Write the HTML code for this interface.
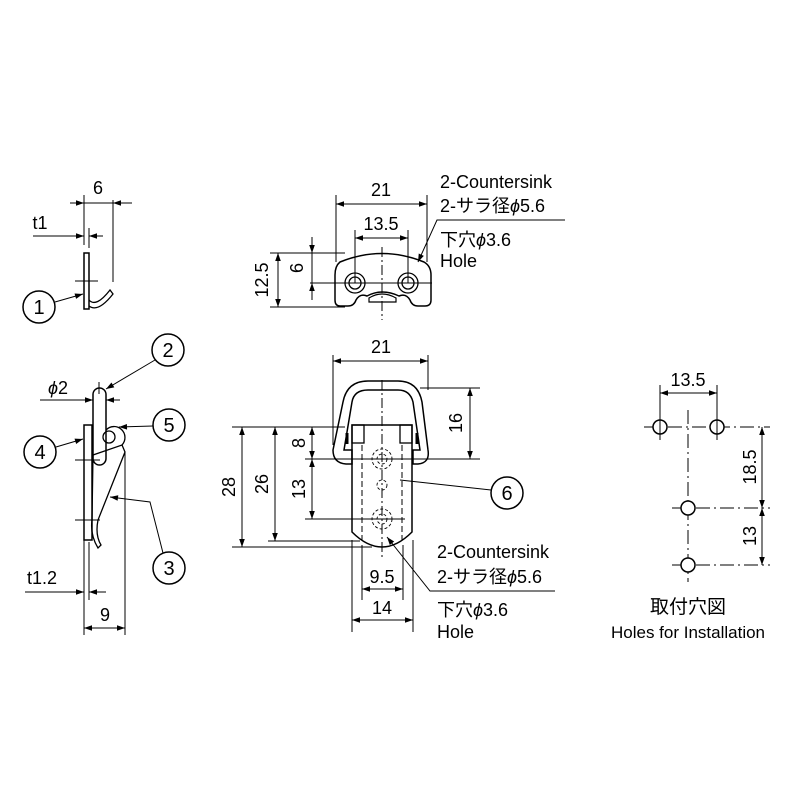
<!DOCTYPE html>
<html><head><meta charset="utf-8"><style>body{margin:0;background:#fff}svg{display:block}text{font-family:"Liberation Sans","Noto Sans CJK JP",sans-serif;fill:#000}</style></head><body>
<svg width="800" height="800" viewBox="0 0 800 800" xmlns="http://www.w3.org/2000/svg">
<defs><marker id="a" viewBox="0 0 10 10" refX="10" refY="5" markerWidth="10" markerHeight="8" orient="auto-start-reverse" markerUnits="userSpaceOnUse"><path d="M0,1.5L10,5L0,8.5z" fill="#000"/></marker></defs>
<g stroke="#000" stroke-width="1" fill="none">
<!-- Part 1 -->
<rect x="84" y="253" width="5" height="56" stroke-width="1.5"/>
<path d="M89,300 Q96,308 110,290 L113,294 Q98,313 89,306" stroke-width="1.3"/>
<line x1="84" y1="195" x2="84" y2="245"/><line x1="113" y1="200" x2="113" y2="282"/>
<line x1="70" y1="203" x2="84" y2="203" marker-end="url(#a)"/><line x1="84" y1="203" x2="113" y2="203"/><line x1="132" y1="203" x2="113" y2="203" marker-end="url(#a)"/>
<line x1="89" y1="228" x2="89" y2="248"/>
<line x1="33" y1="236" x2="84" y2="236" marker-end="url(#a)"/><line x1="103" y1="236" x2="89" y2="236" marker-end="url(#a)"/>
<line x1="75" y1="281" x2="98" y2="281"/>
<circle cx="39" cy="307" r="16" stroke-width="1.5"/><line x1="55" y1="302" x2="83" y2="294" marker-end="url(#a)"/>
<!-- Part 2 -->
<rect x="93" y="388" width="13" height="77" rx="6.5" stroke-width="1.5"/>
<line x1="40" y1="400" x2="93" y2="400" marker-end="url(#a)"/><line x1="120" y1="400" x2="106" y2="400" marker-end="url(#a)"/>
<line x1="99" y1="382" x2="99" y2="394"/>
<circle cx="168" cy="350" r="16" stroke-width="1.5"/><line x1="155" y1="360" x2="106" y2="389" marker-end="url(#a)"/>
<circle cx="109" cy="437" r="6" stroke-width="1.3"/><path d="M106,430 A9,9 0 0 1 122,445" stroke-width="1.3"/>
<circle cx="169" cy="425" r="16" stroke-width="1.5"/><line x1="153" y1="426" x2="119" y2="427" marker-end="url(#a)"/>
<rect x="84" y="425" width="8" height="115" stroke-width="1.5"/>
<circle cx="40" cy="452" r="16" stroke-width="1.5"/><line x1="56" y1="447" x2="83" y2="439" marker-end="url(#a)"/>
<path d="M122,445 L125,452 L98,520 Q95,535 101,545 L98,548 Q90,535 92,520 L93,455 Z" stroke-width="1.3"/>
<line x1="75" y1="460" x2="100" y2="460"/><line x1="75" y1="520" x2="100" y2="520"/>
<line x1="125" y1="452" x2="125" y2="635"/><line x1="84" y1="540" x2="84" y2="635"/><line x1="89" y1="542" x2="89" y2="600"/>
<line x1="25" y1="592" x2="84" y2="592" marker-end="url(#a)"/><line x1="106" y1="592" x2="89" y2="592" marker-end="url(#a)"/>
<line x1="84" y1="628" x2="125" y2="628" marker-start="url(#a)" marker-end="url(#a)"/>
<circle cx="169" cy="568" r="16" stroke-width="1.5"/><polyline points="163,553 150,502 110,497" marker-end="url(#a)"/>
<!-- Top plate -->
<path d="M340,262 Q382,245 424,262 Q431,266 431,275 L431,300 Q431,306 425,306 L418,306 Q412,306 410,300 Q406,293 399,296 Q382,288 367,296 Q360,293 356,300 Q354,306 348,306 L340,306 Q335,306 335,300 L335,275 Q335,266 340,262 Z" stroke-width="1.5"/>
<path d="M369,298 Q382,290 396,298 L396,302 L369,302 Z" stroke-width="1.2"/>
<circle cx="355" cy="283" r="10" stroke-width="1.3"/><circle cx="355" cy="283" r="6" stroke-width="1.3"/>
<circle cx="408" cy="283" r="10" stroke-width="1.3"/><circle cx="408" cy="283" r="6" stroke-width="1.3"/>
<line x1="382" y1="247" x2="382" y2="320" stroke-dasharray="10,3,2,3"/>
<line x1="310" y1="283" x2="432" y2="283"/>
<line x1="336" y1="195" x2="336" y2="262"/><line x1="427" y1="195" x2="427" y2="262"/>
<line x1="336" y1="204" x2="427" y2="204" marker-start="url(#a)" marker-end="url(#a)"/>
<line x1="355" y1="230" x2="355" y2="283"/><line x1="408" y1="230" x2="408" y2="283"/>
<line x1="355" y1="238" x2="408" y2="238" marker-start="url(#a)" marker-end="url(#a)"/>
<line x1="270" y1="253" x2="345" y2="253"/><line x1="270" y1="307" x2="345" y2="307"/>
<line x1="278" y1="253" x2="278" y2="307" marker-start="url(#a)" marker-end="url(#a)"/>
<line x1="312" y1="237" x2="312" y2="253" marker-end="url(#a)"/><line x1="312" y1="300" x2="312" y2="283" marker-end="url(#a)"/><line x1="312" y1="253" x2="312" y2="283"/>
<polyline points="565,220 437,220 418,262" marker-end="url(#a)"/>
<!-- Middle latch -->
<path d="M333,450 L343,402 Q347,381 368,381 L398,381 Q418,381 422,402 L428,450 Q430,463 418,464 L413,464 L413,450 L420,450 L413,402 Q410,390 398,390 L368,390 Q354,390 352,402 L344,450 L352,450 L352,464 L346,464 Q333,463 333,450 Z" stroke-width="1.5"/>
<path d="M352,425 L412,425 L412,532 Q397,547 382,547 Q367,547 352,532 Z" stroke-width="1.5"/>
<rect x="352" y="425" width="12" height="18" stroke-width="1.3"/><rect x="400" y="425" width="12" height="18" stroke-width="1.3"/>
<line x1="347" y1="433" x2="347" y2="444" stroke-width="3"/><line x1="417" y1="433" x2="417" y2="444" stroke-width="3"/>
<line x1="362" y1="445" x2="362" y2="540" stroke-dasharray="6,3"/><line x1="402" y1="445" x2="402" y2="540" stroke-dasharray="6,3"/>
<line x1="382" y1="380" x2="382" y2="560" stroke-dasharray="10,3,2,3"/>
<g stroke-dasharray="3,2" stroke-width="0.9"><circle cx="382" cy="459" r="10"/><circle cx="382" cy="459" r="5"/><circle cx="382" cy="485" r="5"/><circle cx="382" cy="519" r="10"/><circle cx="382" cy="519" r="5"/></g>
<line x1="333" y1="355" x2="333" y2="445"/><line x1="428" y1="355" x2="428" y2="390"/>
<line x1="333" y1="361" x2="428" y2="361" marker-start="url(#a)" marker-end="url(#a)"/>
<line x1="420" y1="388" x2="480" y2="388"/><line x1="305" y1="459" x2="480" y2="459"/>
<line x1="470" y1="388" x2="470" y2="459" marker-start="url(#a)" marker-end="url(#a)"/>
<line x1="232" y1="427" x2="345" y2="427"/><line x1="305" y1="519" x2="405" y2="519"/><line x1="268" y1="541" x2="360" y2="541"/><line x1="232" y1="547" x2="372" y2="547"/>
<line x1="242" y1="427" x2="242" y2="547" marker-start="url(#a)" marker-end="url(#a)"/>
<line x1="275" y1="427" x2="275" y2="541" marker-start="url(#a)" marker-end="url(#a)"/>
<line x1="312" y1="427" x2="312" y2="459" marker-start="url(#a)" marker-end="url(#a)"/>
<line x1="312" y1="459" x2="312" y2="519" marker-start="url(#a)" marker-end="url(#a)"/>
<line x1="352" y1="540" x2="352" y2="632"/><line x1="413" y1="540" x2="413" y2="632"/><line x1="362" y1="545" x2="362" y2="600"/><line x1="403" y1="545" x2="403" y2="600"/>
<line x1="362" y1="589" x2="403" y2="589" marker-start="url(#a)" marker-end="url(#a)"/>
<line x1="352" y1="620" x2="413" y2="620" marker-start="url(#a)" marker-end="url(#a)"/>
<polyline points="555,591 430,591 387,537" marker-end="url(#a)"/>
<circle cx="507" cy="493" r="16" stroke-width="1.5"/><line x1="491" y1="490" x2="400" y2="480"/>
<!-- Holes -->
<line x1="644" y1="427" x2="770" y2="427" stroke-dasharray="14,4,2,4"/>
<line x1="688" y1="410" x2="688" y2="582" stroke-dasharray="14,4,2,4"/>
<line x1="672" y1="508" x2="770" y2="508" stroke-dasharray="14,4,2,4"/><line x1="672" y1="565" x2="770" y2="565" stroke-dasharray="14,4,2,4"/>
<circle cx="660" cy="427" r="7" stroke-width="1.5" fill="#fff"/><circle cx="717" cy="427" r="7" stroke-width="1.5" fill="#fff"/>
<circle cx="688" cy="508" r="7" stroke-width="1.5" fill="#fff"/><circle cx="688" cy="565" r="7" stroke-width="1.5" fill="#fff"/>
<line x1="660" y1="385" x2="660" y2="440"/><line x1="717" y1="385" x2="717" y2="440"/>
<line x1="660" y1="393" x2="717" y2="393" marker-start="url(#a)" marker-end="url(#a)"/>
<line x1="762" y1="427" x2="762" y2="508" marker-start="url(#a)" marker-end="url(#a)"/>
<line x1="762" y1="508" x2="762" y2="565" marker-start="url(#a)" marker-end="url(#a)"/>
</g>
<g font-size="18" text-anchor="middle">
<text x="98" y="194">6</text><text x="40" y="229">t1</text>
<text x="39" y="314" font-size="20">1</text><text x="168" y="357" font-size="20">2</text><text x="169" y="432" font-size="20">5</text><text x="40" y="459" font-size="20">4</text><text x="169" y="575" font-size="20">3</text><text x="507" y="500" font-size="20">6</text>
<text x="58" y="394" font-style="italic">ϕ<tspan font-style="normal">2</tspan></text>
<text x="42" y="584">t1.2</text><text x="105" y="621">9</text>
<text x="381" y="196">21</text><text x="381" y="230">13.5</text>
<text x="381" y="353">21</text><text x="382" y="583">9.5</text><text x="382" y="614">14</text>
<text x="688" y="386">13.5</text>
<text transform="translate(268,280) rotate(-90)">12.5</text>
<text transform="translate(303,268) rotate(-90)">6</text>
<text transform="translate(235,487) rotate(-90)">28</text>
<text transform="translate(268,484) rotate(-90)">26</text>
<text transform="translate(305,443) rotate(-90)">8</text>
<text transform="translate(305,489) rotate(-90)">13</text>
<text transform="translate(462,423) rotate(-90)">16</text>
<text transform="translate(756,467) rotate(-90)">18.5</text>
<text transform="translate(756,536) rotate(-90)">13</text>
<text x="688" y="613" font-size="19">取付穴図</text>
<text x="688" y="638" font-size="17">Holes for Installation</text>
</g>
<g font-size="18">
<text x="440" y="188">2-Countersink</text><text x="440" y="212">2-サラ径<tspan font-style="italic">ϕ</tspan>5.6</text>
<text x="440" y="246">下穴<tspan font-style="italic">ϕ</tspan>3.6</text><text x="440" y="267">Hole</text>
<text x="437" y="558">2-Countersink</text><text x="437" y="583">2-サラ径<tspan font-style="italic">ϕ</tspan>5.6</text>
<text x="437" y="616">下穴<tspan font-style="italic">ϕ</tspan>3.6</text><text x="437" y="638">Hole</text>
</g>
</svg>
</body></html>
